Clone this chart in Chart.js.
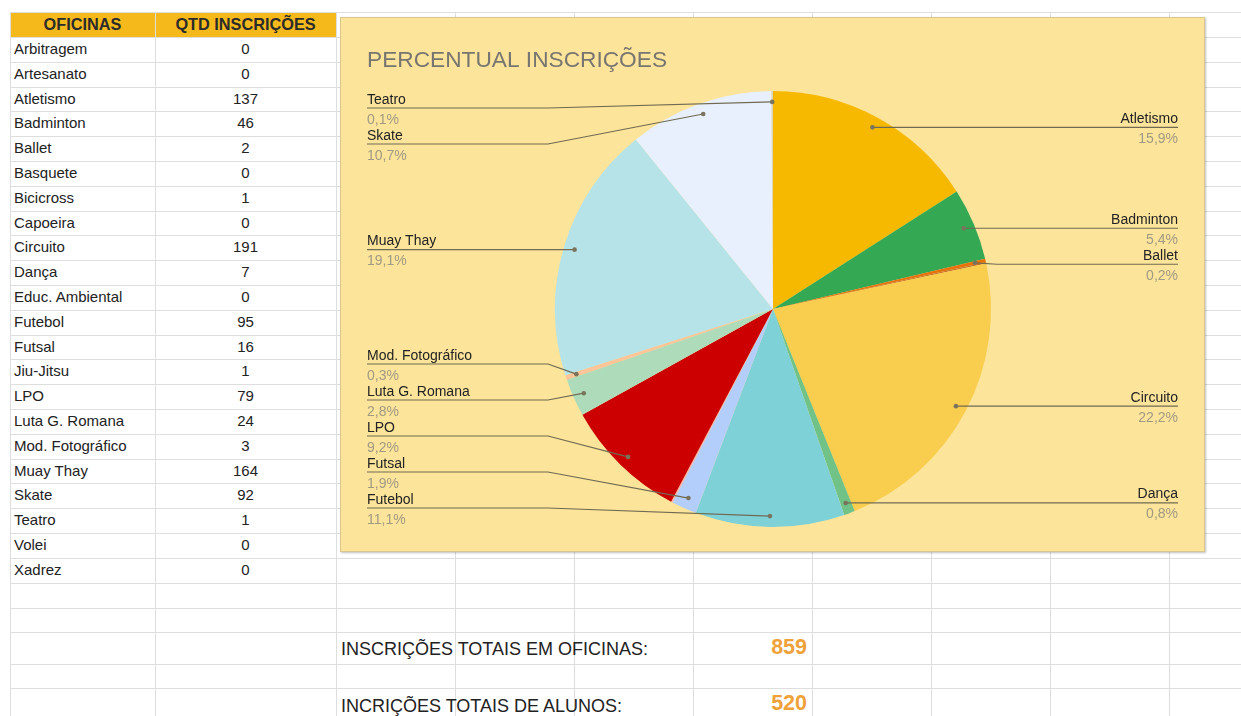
<!DOCTYPE html>
<html>
<head>
<meta charset="utf-8">
<script src="https://cdn.jsdelivr.net/npm/chart.js@4.4.0/dist/chart.umd.min.js"></script>
<style>
  body { margin: 0; width: 1241px; height: 716px; overflow: hidden; background: #fff; position: relative;
         font-family: "Liberation Sans", Arial, sans-serif; }
  .linha-h { position: absolute; height: 1px; background: #dedede; }
  .linha-v { position: absolute; width: 1px; background: #dedede; }
  .cel { position: absolute; font-size: 15px; color: #222; white-space: nowrap; }
  #cabecalho { position: absolute; left: 10px; top: 12px; width: 326px; height: 25px; background: #f6b91b; }
  .cab { position: absolute; top: 12px; height: 25px; line-height: 25px; font-size: 16.3px; font-weight: bold;
         color: #2b2b2b; text-align: center; }
  #caixa { position: absolute; left: 340px; top: 17px; width: 865px; height: 535px; box-sizing: border-box;
           background: #fde49b; border: 1px solid #d9c78f; box-shadow: 1px 1px 2px rgba(0,0,0,0.25); }
  #pizza { position: absolute; left: 340px; top: 17px; }
  .total-txt { position: absolute; left: 341px; font-size: 18px; color: #222; white-space: nowrap; }
  .total-num { position: absolute; left: 693px; width: 114px; text-align: right; font-size: 21.5px;
               font-weight: bold; color: #f0a23a; }
</style>
</head>
<body>
<div id="planilha"></div>
<div id="caixa"></div>
<canvas id="pizza" width="865" height="535"></canvas>

<script>
// Dados da planilha
const oficinas = ['Arbitragem', 'Artesanato', 'Atletismo', 'Badminton', 'Ballet', 'Basquete', 'Bicicross',
  'Capoeira', 'Circuito', 'Dança', 'Educ. Ambiental', 'Futebol', 'Futsal', 'Jiu-Jitsu', 'LPO',
  'Luta G. Romana', 'Mod. Fotográfico', 'Muay Thay', 'Skate', 'Teatro', 'Volei', 'Xadrez'];
const inscricoes = [0, 0, 137, 46, 2, 0, 1, 0, 191, 7, 0, 95, 16, 1, 79, 24, 3, 164, 92, 1, 0, 0];
const cores = ['#4285f4', '#ea4335', '#f6b900', '#34a853', '#e8710a', '#46bdc6', '#c9742a', '#7baaf7',
  '#f9cd4d', '#71c287', '#ff994d', '#7ed1d7', '#b3cefb', '#f7b4ae', '#cc0000', '#aedcba', '#ffc599',
  '#b5e3e8', '#e8f0fe', '#d9d4c0', '#fbdedb', '#cfe8d6'];
// Fatias que recebem rótulo no gráfico original
const rotulados = ['Atletismo', 'Badminton', 'Ballet', 'Circuito', 'Dança', 'Futebol', 'Futsal', 'LPO',
  'Luta G. Romana', 'Mod. Fotográfico', 'Muay Thay', 'Skate', 'Teatro'];
const totalAlunos = 520;
const totalOficinas = inscricoes.reduce((a, b) => a + b, 0);

// ---- Grade da planilha ----
const planilha = document.getElementById('planilha');
const alturas = [25];
for (let i = 0; i < oficinas.length; i++) alturas.push(24.8);
alturas.push(25, 24, 32, 24, 32);
const topos = [12];
alturas.forEach(h => topos.push(topos[topos.length - 1] + h));
const colunas = [10, 155, 336, 455, 574, 693, 812, 931, 1050, 1169];

function add(cls, estilo, texto) {
  const d = document.createElement('div');
  d.className = cls;
  Object.assign(d.style, estilo);
  if (texto !== undefined) d.textContent = texto;
  planilha.appendChild(d);
  return d;
}

add('', {}, '').id = 'cabecalho';
topos.forEach(y => add('linha-h', { left: '10px', top: y + 'px', width: '1231px' }));
colunas.forEach(x => add('linha-v', { left: x + 'px', top: '12px', height: '704px' }));
add('cab', { left: '10px', width: '145px' }, 'OFICINAS');
add('cab', { left: '155px', width: '181px' }, 'QTD INSCRIÇÕES');

oficinas.forEach((nome, i) => {
  const y = topos[i + 1];
  add('cel', { left: '14px', top: y + 'px', lineHeight: '24.8px' }, nome);
  add('cel', { left: '155px', width: '181px', textAlign: 'center', top: y + 'px', lineHeight: '24.8px' }, String(inscricoes[i]));
});

add('total-txt', { top: '639px' }, 'INSCRIÇÕES TOTAIS EM OFICINAS:');
add('total-num', { top: '635px' }, String(totalOficinas));
add('total-txt', { top: '696px' }, 'INCRIÇÕES TOTAIS DE ALUNOS:');
add('total-num', { top: '691px' }, String(totalAlunos));

// ---- Rótulos com linhas de chamada ----
const rotulosPizza = {
  id: 'rotulosPizza',
  afterDraw(chart) {
    const ctx = chart.ctx;
    const meta = chart.getDatasetMeta(0);
    const valores = chart.data.datasets[0].data;
    const total = valores.reduce((a, b) => a + b, 0);
    const itens = [];
    let cx = 0, cy = 0, raio = 0;

    meta.data.forEach((arco, i) => {
      const nome = chart.data.labels[i];
      if (!valores[i] || !rotulados.includes(nome)) return;
      const p = arco.getProps(['x', 'y', 'startAngle', 'endAngle', 'outerRadius'], true);
      cx = p.x; cy = p.y; raio = p.outerRadius;
      const meio = (p.startAngle + p.endAngle) / 2;
      const px = p.x + Math.cos(meio) * p.outerRadius * 0.95;
      const py = p.y + Math.sin(meio) * p.outerRadius * 0.95;
      const pct = (valores[i] / total * 100).toFixed(1).replace('.', ',') + '%';
      itens.push({ nome, pct, px, py, alvo: py, lado: px < p.x ? 'esq' : 'dir' });
    });

    // título
    ctx.save();
    ctx.font = '22.7px "Liberation Sans", Arial, sans-serif';
    ctx.fillStyle = '#777570';
    ctx.textAlign = 'left';
    ctx.textBaseline = 'alphabetic';
    ctx.fillText('PERCENTUAL INSCRIÇÕES', 27, 50);

    const espaco = 36;
    const minY = cy - raio + 17;
    const maxY = cy + raio - 19;
    const xEsq = 27, xDir = chart.width - 27, dobra = 181;

    ['esq', 'dir'].forEach(lado => {
      const grupo = itens.filter(it => it.lado === lado).sort((a, b) => a.alvo - b.alvo);
      grupo.forEach((it, k) => {
        it.ly = Math.max(it.alvo, minY, k ? grupo[k - 1].ly + espaco : -Infinity);
      });
      for (let k = grupo.length - 1; k >= 0; k--) {
        grupo[k].ly = Math.min(grupo[k].ly, maxY, k < grupo.length - 1 ? grupo[k + 1].ly - espaco : Infinity);
      }
      grupo.forEach(it => {
        const x0 = lado === 'esq' ? xEsq : xDir;
        const xb = lado === 'esq' ? xEsq + dobra : xDir - dobra;
        ctx.strokeStyle = '#706a52';
        ctx.lineWidth = 1.2;
        ctx.beginPath();
        ctx.moveTo(x0, it.ly);
        ctx.lineTo(xb, it.ly);
        ctx.lineTo(it.px, it.py);
        ctx.stroke();
        ctx.fillStyle = '#7a745c';
        ctx.beginPath();
        ctx.arc(it.px, it.py, 2.3, 0, Math.PI * 2);
        ctx.fill();

        ctx.textAlign = lado === 'esq' ? 'left' : 'right';
        ctx.font = '14px "Liberation Sans", Arial, sans-serif';
        ctx.fillStyle = '#222';
        ctx.fillText(it.nome, x0, it.ly - 4.5);
        ctx.fillStyle = '#a09a82';
        ctx.fillText(it.pct, x0, it.ly + 15.5);
      });
    });
    ctx.restore();
  }
};

const ctx = document.getElementById('pizza').getContext('2d');
new Chart(ctx, {
  type: 'pie',
  data: {
    labels: oficinas,
    datasets: [{
      data: inscricoes,
      backgroundColor: cores,
      borderWidth: 0
    }]
  },
  options: {
    responsive: false,
    animation: false,
    devicePixelRatio: 1,
    layout: { padding: { top: 74, bottom: 25, left: 215, right: 214 } },
    plugins: {
      legend: { display: false },
      tooltip: { enabled: false }
    }
  },
  plugins: [rotulosPizza]
});
</script>
</body>
</html>
